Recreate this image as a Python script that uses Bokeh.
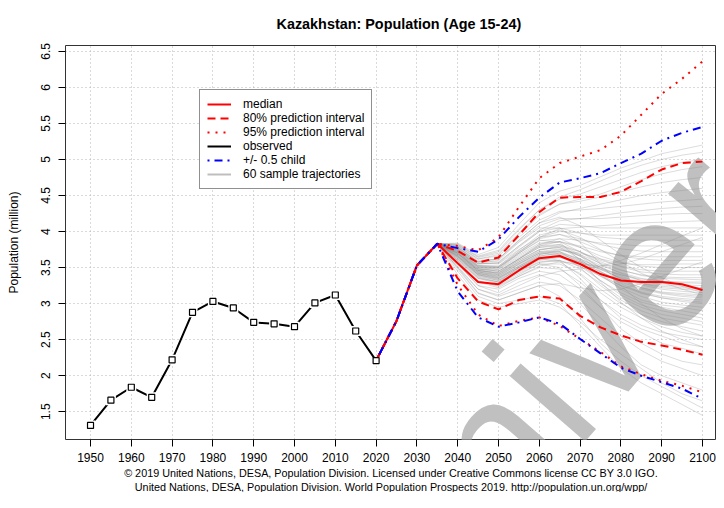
from bokeh.plotting import figure
from bokeh.models import (FixedTicker, Label, Legend, LegendItem, Range1d,
                          PrintfTickFormatter, Title)
from bokeh.embed import file_html
from bokeh.resources import INLINE

# ---------------- data ----------------
obs_years = [1950, 1955, 1960, 1965, 1970, 1975, 1980, 1985, 1990, 1995,
             2000, 2005, 2010, 2015, 2020]
obs_values = [1.31, 1.66, 1.84, 1.70, 2.22, 2.88, 3.03, 2.94, 2.74, 2.72,
              2.68, 3.01, 3.12, 2.62, 2.21]

proj_years = [2020, 2025, 2030, 2035, 2040, 2045, 2050, 2055, 2060, 2065,
              2070, 2075, 2080, 2085, 2090, 2095, 2100]
median = [2.21, 2.76, 3.53, 3.83, 3.56, 3.30, 3.27, 3.46, 3.63, 3.66,
          3.55, 3.41, 3.32, 3.30, 3.30, 3.27, 3.19]
pi80_upper = [2.21, 2.76, 3.53, 3.83, 3.73, 3.57, 3.64, 3.95, 4.27, 4.47,
              4.48, 4.48, 4.55, 4.70, 4.86, 4.95, 4.97]
pi80_lower = [2.21, 2.76, 3.53, 3.83, 3.35, 3.03, 2.92, 3.05, 3.10, 3.07,
              2.83, 2.67, 2.56, 2.47, 2.42, 2.36, 2.29]
pi95_upper = [2.21, 2.76, 3.53, 3.83, 3.80, 3.74, 3.92, 4.34, 4.74, 4.95,
              5.04, 5.13, 5.33, 5.62, 5.91, 6.12, 6.36]
pi95_lower = [2.21, 2.76, 3.53, 3.83, 3.26, 2.85, 2.69, 2.76, 2.81, 2.69,
              2.51, 2.33, 2.13, 2.02, 1.93, 1.86, 1.77]
child_upper = [2.21, 2.76, 3.53, 3.83, 3.77, 3.72, 3.89, 4.20, 4.47, 4.68,
               4.74, 4.81, 4.95, 5.08, 5.26, 5.37, 5.45]
child_lower = [2.21, 2.76, 3.53, 3.83, 3.17, 2.81, 2.68, 2.74, 2.81, 2.72,
               2.51, 2.31, 2.11, 2.00, 1.91, 1.82, 1.68]

traj_years = [2035, 2040, 2045, 2050, 2055, 2060, 2065, 2070, 2075, 2080,
              2085, 2090, 2095, 2100]
sample_trajectories = [
    [3.83, 3.45, 3.10, 3.00, 3.05, 3.10, 3.00, 2.70, 2.40, 2.10, 1.90, 1.75, 1.60, 1.45],
    [3.83, 3.50, 3.15, 3.05, 3.15, 3.25, 3.10, 2.80, 2.45, 2.20, 2.00, 1.85, 1.70, 1.55],
    [3.83, 3.40, 3.05, 2.95, 3.00, 3.05, 2.95, 2.75, 2.50, 2.30, 2.10, 1.90, 1.75, 1.65],
    [3.83, 3.55, 3.25, 3.15, 3.30, 3.40, 3.30, 3.00, 2.70, 2.40, 2.15, 2.00, 1.90, 1.80],
    [3.83, 3.50, 3.20, 3.10, 3.20, 3.30, 3.25, 3.05, 2.80, 2.55, 2.35, 2.20, 2.10, 2.00],
    [3.83, 3.60, 3.30, 3.25, 3.40, 3.55, 3.50, 3.25, 2.95, 2.65, 2.45, 2.30, 2.20, 2.15],
    [3.83, 3.55, 3.25, 3.20, 3.35, 3.45, 3.40, 3.20, 2.95, 2.75, 2.60, 2.45, 2.38, 2.30],
    [3.83, 3.62, 3.35, 3.30, 3.50, 3.65, 3.60, 3.35, 3.05, 2.80, 2.65, 2.55, 2.45, 2.40],
    [3.83, 3.58, 3.30, 3.22, 3.38, 3.50, 3.48, 3.30, 3.05, 2.85, 2.70, 2.60, 2.55, 2.50],
    [3.83, 3.65, 3.40, 3.35, 3.50, 3.62, 3.58, 3.40, 3.15, 2.95, 2.80, 2.68, 2.60, 2.55],
    [3.83, 3.60, 3.35, 3.28, 3.42, 3.55, 3.55, 3.42, 3.20, 3.00, 2.85, 2.75, 2.68, 2.62],
    [3.83, 3.66, 3.42, 3.38, 3.55, 3.70, 3.68, 3.50, 3.25, 3.05, 2.90, 2.80, 2.75, 2.70],
    [3.83, 3.62, 3.36, 3.30, 3.45, 3.58, 3.60, 3.48, 3.28, 3.08, 2.95, 2.85, 2.80, 2.75],
    [3.83, 3.68, 3.44, 3.40, 3.58, 3.72, 3.72, 3.55, 3.32, 3.12, 2.98, 2.90, 2.85, 2.80],
    [3.83, 3.64, 3.38, 3.32, 3.48, 3.62, 3.65, 3.52, 3.32, 3.15, 3.02, 2.95, 2.90, 2.85],
    [3.83, 3.70, 3.46, 3.42, 3.60, 3.75, 3.78, 3.62, 3.40, 3.20, 3.05, 2.98, 2.95, 2.90],
    [3.83, 3.66, 3.40, 3.34, 3.50, 3.64, 3.66, 3.55, 3.38, 3.22, 3.10, 3.02, 2.98, 2.95],
    [3.83, 3.72, 3.48, 3.45, 3.62, 3.78, 3.80, 3.66, 3.45, 3.28, 3.15, 3.08, 3.03, 3.00],
    [3.83, 3.67, 3.42, 3.36, 3.52, 3.66, 3.70, 3.58, 3.40, 3.25, 3.14, 3.08, 3.05, 3.02],
    [3.83, 3.63, 3.37, 3.30, 3.44, 3.57, 3.60, 3.52, 3.38, 3.25, 3.16, 3.10, 3.07, 3.05],
    [3.83, 3.70, 3.45, 3.40, 3.56, 3.70, 3.72, 3.60, 3.44, 3.30, 3.20, 3.14, 3.10, 3.08],
    [3.83, 3.74, 3.50, 3.47, 3.64, 3.80, 3.82, 3.68, 3.50, 3.34, 3.22, 3.15, 3.12, 3.10],
    [3.83, 3.65, 3.40, 3.33, 3.48, 3.62, 3.66, 3.58, 3.44, 3.32, 3.22, 3.16, 3.14, 3.12],
    [3.83, 3.69, 3.44, 3.38, 3.54, 3.68, 3.72, 3.62, 3.48, 3.35, 3.26, 3.20, 3.17, 3.15],
    [3.83, 3.72, 3.47, 3.43, 3.60, 3.75, 3.78, 3.66, 3.50, 3.38, 3.28, 3.22, 3.20, 3.18],
    [3.83, 3.66, 3.41, 3.35, 3.50, 3.64, 3.68, 3.60, 3.47, 3.36, 3.28, 3.24, 3.22, 3.20],
    [3.83, 3.75, 3.52, 3.50, 3.68, 3.84, 3.86, 3.72, 3.55, 3.42, 3.32, 3.26, 3.24, 3.22],
    [3.83, 3.68, 3.43, 3.37, 3.52, 3.66, 3.70, 3.62, 3.50, 3.40, 3.32, 3.28, 3.26, 3.25],
    [3.83, 3.71, 3.46, 3.41, 3.57, 3.72, 3.76, 3.66, 3.53, 3.43, 3.35, 3.31, 3.29, 3.28],
    [3.83, 3.64, 3.39, 3.32, 3.46, 3.60, 3.64, 3.58, 3.48, 3.40, 3.34, 3.31, 3.30, 3.30],
    [3.83, 3.73, 3.49, 3.45, 3.62, 3.78, 3.82, 3.72, 3.58, 3.47, 3.39, 3.35, 3.34, 3.33],
    [3.83, 3.69, 3.44, 3.39, 3.55, 3.70, 3.75, 3.68, 3.56, 3.46, 3.40, 3.37, 3.36, 3.36],
    [3.83, 3.76, 3.53, 3.51, 3.70, 3.87, 3.90, 3.78, 3.62, 3.51, 3.44, 3.41, 3.40, 3.40],
    [3.83, 3.70, 3.46, 3.42, 3.58, 3.74, 3.80, 3.72, 3.60, 3.52, 3.47, 3.45, 3.45, 3.45],
    [3.83, 3.74, 3.51, 3.48, 3.66, 3.82, 3.86, 3.78, 3.66, 3.57, 3.52, 3.50, 3.50, 3.50],
    [3.83, 3.67, 3.42, 3.36, 3.52, 3.68, 3.74, 3.70, 3.62, 3.56, 3.54, 3.54, 3.55, 3.55],
    [3.83, 3.78, 3.56, 3.55, 3.75, 3.92, 3.96, 3.86, 3.74, 3.66, 3.62, 3.60, 3.60, 3.60],
    [3.83, 3.72, 3.48, 3.45, 3.62, 3.80, 3.86, 3.80, 3.72, 3.67, 3.65, 3.65, 3.65, 3.65],
    [3.83, 3.75, 3.53, 3.52, 3.72, 3.90, 3.96, 3.90, 3.82, 3.76, 3.73, 3.72, 3.72, 3.72],
    [3.83, 3.70, 3.46, 3.43, 3.62, 3.82, 3.90, 3.88, 3.84, 3.82, 3.80, 3.80, 3.80, 3.80],
    [3.83, 3.79, 3.58, 3.58, 3.80, 4.00, 4.05, 3.98, 3.92, 3.90, 3.88, 3.88, 3.88, 3.88],
    [3.83, 3.74, 3.51, 3.50, 3.72, 3.92, 4.00, 3.98, 3.95, 3.95, 3.95, 3.95, 3.95, 3.95],
    [3.83, 3.77, 3.55, 3.56, 3.78, 4.00, 4.10, 4.08, 4.05, 4.05, 4.05, 4.05, 4.05, 4.05],
    [3.83, 3.72, 3.50, 3.50, 3.70, 3.92, 4.04, 4.06, 4.08, 4.10, 4.12, 4.13, 4.14, 4.15],
    [3.83, 3.80, 3.60, 3.62, 3.86, 4.08, 4.18, 4.18, 4.18, 4.20, 4.22, 4.24, 4.25, 4.25],
    [3.83, 3.76, 3.55, 3.57, 3.80, 4.02, 4.15, 4.18, 4.22, 4.26, 4.29, 4.32, 4.34, 4.35],
    [3.83, 3.81, 3.62, 3.66, 3.92, 4.16, 4.28, 4.30, 4.32, 4.35, 4.38, 4.41, 4.43, 4.45],
    [3.83, 3.78, 3.58, 3.62, 3.88, 4.12, 4.26, 4.32, 4.38, 4.44, 4.50, 4.54, 4.57, 4.60],
    [3.83, 3.82, 3.64, 3.70, 3.98, 4.24, 4.38, 4.42, 4.48, 4.55, 4.62, 4.68, 4.72, 4.75],
    [3.83, 3.80, 3.62, 3.68, 3.96, 4.22, 4.38, 4.45, 4.52, 4.62, 4.72, 4.80, 4.86, 4.90],
    [3.83, 3.83, 3.66, 3.74, 4.04, 4.30, 4.45, 4.52, 4.62, 4.72, 4.82, 4.90, 4.96, 5.00],
    [3.83, 3.82, 3.65, 3.72, 4.02, 4.30, 4.48, 4.58, 4.70, 4.82, 4.92, 5.00, 5.06, 5.10],
    [3.83, 3.84, 3.68, 3.78, 4.10, 4.40, 4.56, 4.64, 4.76, 4.88, 4.98, 5.08, 5.14, 5.20],
    [3.83, 3.76, 3.56, 3.60, 3.85, 4.05, 4.05, 3.85, 3.55, 3.25, 3.00, 2.80, 2.65, 2.55],
    [3.83, 3.70, 3.48, 3.48, 3.70, 3.88, 3.85, 3.60, 3.30, 3.02, 2.80, 2.62, 2.50, 2.40],
    [3.83, 3.48, 3.14, 3.05, 3.15, 3.25, 3.28, 3.22, 3.18, 3.20, 3.28, 3.38, 3.48, 3.58],
    [3.83, 3.52, 3.20, 3.12, 3.25, 3.38, 3.45, 3.48, 3.52, 3.60, 3.70, 3.82, 3.94, 4.05],
    [3.83, 3.60, 3.32, 3.24, 3.38, 3.52, 3.58, 3.55, 3.52, 3.55, 3.62, 3.72, 3.82, 3.92],
    [3.83, 3.74, 3.52, 3.52, 3.74, 3.95, 4.02, 3.92, 3.75, 3.58, 3.42, 3.30, 3.20, 3.12],
    [3.83, 3.78, 3.58, 3.62, 3.88, 4.12, 4.20, 4.08, 3.88, 3.68, 3.50, 3.36, 3.24, 3.15],
]

x_ticks = [1950, 1960, 1970, 1980, 1990, 2000, 2010, 2020, 2030, 2040,
           2050, 2060, 2070, 2080, 2090, 2100]
y_ticks = [1.5, 2.0, 2.5, 3.0, 3.5, 4.0, 4.5, 5.0, 5.5, 6.0, 6.5]

title_text = "Kazakhstan: Population (Age 15-24)"
y_title = "Population (million)"
footer_1 = ("\u00a9 2019 United Nations, DESA, Population Division. Licensed under "
            "Creative Commons license CC BY 3.0 IGO.")
footer_2 = ("United Nations, DESA, Population Division. World Population "
            "Prospects 2019. http://population.un.org/wpp/")
legend_labels = ["median", "80% prediction interval", "95% prediction interval",
                 "observed", "+/- 0.5 child", "60 sample trajectories"]

# ---------------- layout ----------------
W, H = 716, 492
FL, FT, FB = 65, 44, 52        # frame borders (left, top, bottom)
X0, X1 = 1943.87, 2103.43
Y0, Y1 = 1.115, 6.581
FONT = "Liberation Sans"


def px2x(px):   # canvas pixel -> data x
    return X0 + (px - FL) * (X1 - X0) / (W - FL)


def py2y(py):   # canvas pixel -> data y
    return Y1 - (py - FT) * (Y1 - Y0) / (H - FT - FB)


p = figure(width=W, height=H, output_backend="svg", toolbar_location=None,
           x_range=Range1d(X0, X1), y_range=Range1d(Y0, Y1),
           min_border_left=FL, min_border_right=0, min_border_top=FT,
           min_border_bottom=FB)
p.background_fill_color = "white"
p.border_fill_color = "white"
p.outline_line_color = "#333333"
p.outline_line_width = 1

p.title.text = title_text
p.title.align = "left"
p.title.offset = 211
p.title.text_font = FONT
p.title.text_font_size = "14.4px"
p.title.text_font_style = "bold"
p.title.text_color = "black"
p.title.standoff = 27

p.xaxis.ticker = FixedTicker(ticks=x_ticks)
p.yaxis.ticker = FixedTicker(ticks=y_ticks)
p.yaxis.formatter = PrintfTickFormatter(format="%g")
p.xaxis.formatter = PrintfTickFormatter(format="%d")
for ax in (p.xaxis[0], p.yaxis[0]):
    ax.axis_line_color = None
    ax.major_tick_line_color = "black"
    ax.major_tick_in = 0
    ax.major_tick_out = 7
    ax.minor_tick_line_color = None
    ax.major_label_text_font = FONT
    ax.major_label_text_font_size = "12px"
    ax.major_label_text_color = "black"
p.xaxis.major_label_standoff = 6
p.yaxis.major_label_standoff = 8
p.yaxis.major_label_orientation = "vertical"
p.yaxis.axis_label = y_title
p.yaxis.axis_label_text_font = FONT
p.yaxis.axis_label_text_font_size = "12px"
p.yaxis.axis_label_text_font_style = "normal"
p.yaxis.axis_label_text_color = "black"
p.yaxis.axis_label_standoff = 18

for g in (p.xgrid[0], p.ygrid[0]):
    g.grid_line_color = "#b4b4b4"
    g.grid_line_dash = "1 3"
    g.grid_line_width = 1

# footer lines below the x axis
p.add_layout(Title(text=footer_1, align="center", text_font=FONT,
                   text_font_size="10.8px", text_font_style="normal",
                   text_color="black", standoff=0), "below")
p.add_layout(Title(text=footer_2, align="center", text_font=FONT,
                   text_font_size="10.8px", text_font_style="normal",
                   text_color="black", standoff=0), "below")

# watermark
p.add_layout(Label(x=px2x(368.3), y=py2y(591.5), text="University",
                   angle=0.855, text_font=FONT, text_font_size="189px",
                   text_color="#c0c0c0", text_align="left",
                   text_baseline="alphabetic", level="underlay"))

# trajectories
p.multi_line(xs=[traj_years] * len(sample_trajectories), ys=sample_trajectories,
             line_color="#8c8c8c", line_alpha=0.3, line_width=1)

r_median = p.line(proj_years, median, line_color="red", line_width=2)
r_80 = p.line(proj_years, pi80_upper, line_color="red", line_width=2, line_dash="8 5")
p.line(proj_years, pi80_lower, line_color="red", line_width=2, line_dash="8 5")
r_95 = p.line(proj_years, pi95_upper, line_color="red", line_width=2, line_dash="2 6")
p.line(proj_years, pi95_lower, line_color="red", line_width=2, line_dash="2 6")
r_child = p.line(proj_years, child_upper, line_color="blue", line_width=2, line_dash="2 5 8 5")
p.line(proj_years, child_lower, line_color="blue", line_width=2, line_dash="2 5 8 5")

r_obs = p.line(obs_years, obs_values, line_color="black", line_width=2)
p.scatter(obs_years[:-1], obs_values[:-1], marker="square", size=10,
          fill_color="white", line_color=None)
p.scatter(obs_years, obs_values, marker="square", size=6,
          fill_color="white", line_color="black", line_width=1.2)

# legend proxy for the trajectories (single point: draws nothing in the plot)
r_traj_leg = p.line(x=traj_years[:1], y=sample_trajectories[0][:1],
                    line_color="#bebebe", line_width=2)

legend = Legend(items=[
    LegendItem(label=legend_labels[0], renderers=[r_median]),
    LegendItem(label=legend_labels[1], renderers=[r_80]),
    LegendItem(label=legend_labels[2], renderers=[r_95]),
    LegendItem(label=legend_labels[3], renderers=[r_obs]),
    LegendItem(label=legend_labels[4], renderers=[r_child]),
    LegendItem(label=legend_labels[5], renderers=[r_traj_leg]),
], location=(134, 250))
legend.border_line_color = "#222222"
legend.border_line_width = 1
legend.background_fill_color = "white"
legend.background_fill_alpha = 1
legend.label_text_font = FONT
legend.label_text_font_size = "12px"
legend.label_text_color = "black"
legend.glyph_width = 24
legend.glyph_height = 14
legend.label_height = 14
legend.spacing = 0
legend.padding = 7
legend.margin = 0
legend.label_standoff = 12
p.add_layout(legend)

open("out.html", "w").write(file_html(p, INLINE))
